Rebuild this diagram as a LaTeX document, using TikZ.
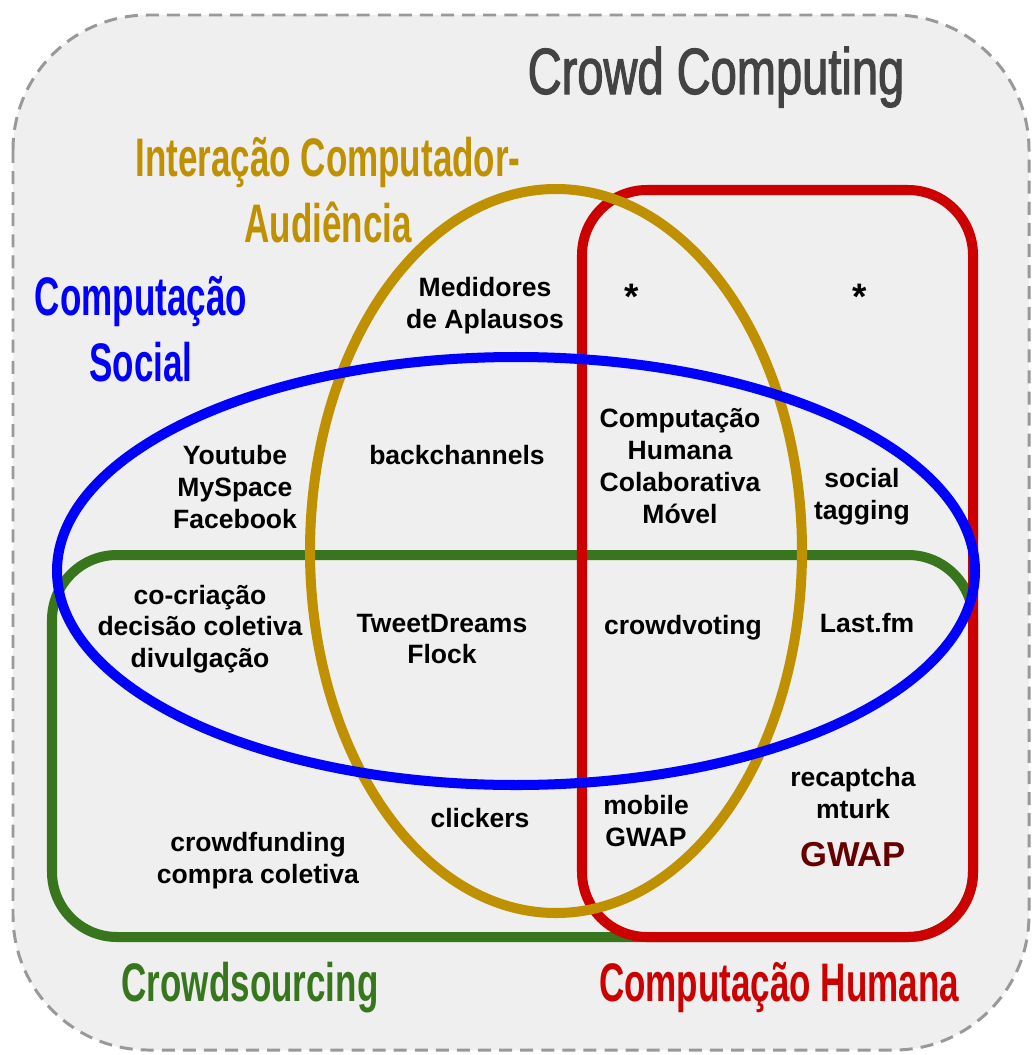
\documentclass[tikz,border=0pt]{standalone}
\usepackage{fontspec}
\setmainfont{Liberation Sans}
\newfontfamily\condfont{Liberation Sans}[FakeStretch=0.645]
\newfontfamily\titlefont{Liberation Sans}[FakeStretch=0.72, FakeBold=1.6]

\definecolor{panelgray}{HTML}{EFEFEF}
\definecolor{dashgray}{HTML}{999999}
\definecolor{titlegray}{HTML}{434343}
\definecolor{hcaiyellow}{HTML}{BF9000}
\definecolor{socialblue}{HTML}{0000FF}
\definecolor{crowdgreen}{HTML}{38761D}
\definecolor{humanred}{HTML}{CC0000}
\definecolor{gwapred}{HTML}{660000}

\tikzset{
  setline/.style={line width=5.7pt},
  item/.style={font=\fontsize{15.1}{18.1}\selectfont\bfseries, align=center, inner sep=0pt, text=black},
  setlabel/.style={font=\condfont\bfseries\fontsize{30.9}{37.8}\selectfont, align=center, inner sep=0pt},
}

\begin{document}
\begin{tikzpicture}[x=0.02cm, y=-0.02cm]
  \useasboundingbox (0,0) rectangle (1032,1055);
  \fill[white] (0,0) rectangle (1032,1055);

  % outer dashed panel
  \draw[dashgray, fill=panelgray, line width=1.7pt, dash pattern=on 7.4pt off 4.6pt,
        rounded corners=2.7cm] (13,15) rectangle (1029,1050);

  % the four sets
  \draw[setline, crowdgreen, rounded corners=1.3cm] (52,555) rectangle (973,937);
  \draw[setline, humanred, rounded corners=1.3cm] (582,190) rectangle (973,937);
  \draw[setline, hcaiyellow] (556,551) ellipse [x radius=246, y radius=362];
  \draw[setline, socialblue] (516,571) ellipse [x radius=459, y radius=214];

  % set names
  \node[anchor=base, font=\titlefont\fontsize{37.2}{40}\selectfont, text=titlegray, inner sep=0pt]
    (title) at (716,94) {Crowd Computing};
  \node[setlabel, text=hcaiyellow] (hcai) at (328,190) {Interação Computador-\\Audiência};
  \node[setlabel, text=socialblue] (social) at (141,329) {Computação\\Social};
  \node[setlabel, text=crowdgreen, anchor=base] (crowd) at (250,1001) {Crowdsourcing};
  \node[setlabel, text=humanred, anchor=base] (human) at (779,1001) {Computação Humana};

  % region contents
  \node[item] (medidores) at (485,306) {Medidores\\de Aplausos};
  \node[item, font=\fontsize{21}{22}\selectfont\bfseries] (star1) at (632,297) {*};
  \node[item, font=\fontsize{21}{22}\selectfont\bfseries] (star2) at (860,297) {*};
  \node[item] (youtube) at (235,487) {Youtube\\MySpace\\Facebook};
  \node[item] (backch) at (457,455) {backchannels};
  \node[item] (chcm) at (680,466) {Computação\\Humana\\Colaborativa\\Móvel};
  \node[item] (tagging) at (862,497) {social\\tagging};
  \node[item] (cocri) at (200,629) {co-criação\\decisão coletiva\\divulgação};
  \node[item] (tweet) at (442,639) {TweetDreams\\Flock};
  \node[item] (cvote) at (683,628) {crowdvoting};
  \node[item] (lastfm) at (867,623) {Last.fm};
  \node[item] (clickers) at (480,818) {clickers};
  \node[item] (mobile) at (646,821) {mobile\\GWAP};
  \node[item] (recap) at (853,793) {recaptcha\\mturk};
  \node[item, text=gwapred, font=\fontsize{19.7}{22}\selectfont\bfseries] (gwap) at (853,855) {GWAP};
  \node[item] (cfund) at (258,861) {crowdfunding\\compra coletiva};
\end{tikzpicture}
\end{document}
